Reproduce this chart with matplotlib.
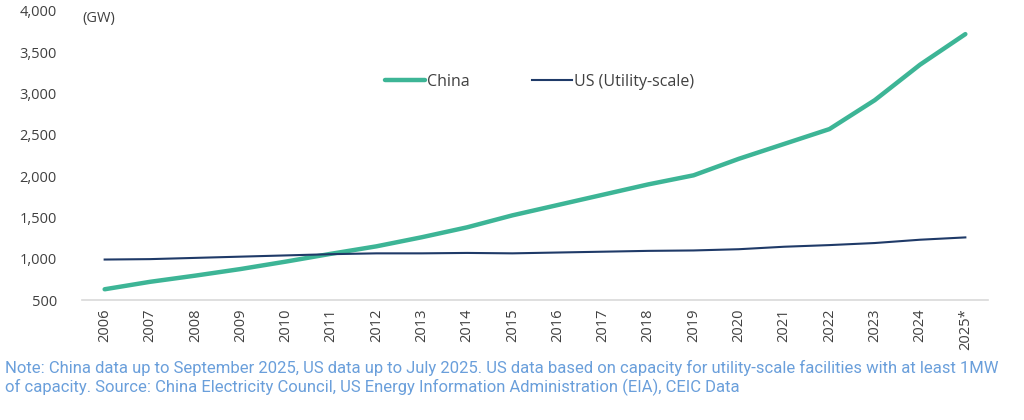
import matplotlib
matplotlib.use("Agg")
import matplotlib.pyplot as plt
from matplotlib.ticker import FuncFormatter

years = ["2006","2007","2008","2009","2010","2011","2012","2013","2014","2015",
         "2016","2017","2018","2019","2020","2021","2022","2023","2024","2025*"]
china = [630, 720, 795, 875, 965, 1060, 1150, 1260, 1380, 1525,
         1650, 1775, 1900, 2010, 2210, 2390, 2570, 2920, 3350, 3720]
us = [990, 995, 1010, 1025, 1040, 1055, 1065, 1065, 1070, 1065,
      1075, 1085, 1095, 1100, 1115, 1145, 1165, 1190, 1230, 1258]
yticks = [500, 1000, 1500, 2000, 2500, 3000, 3500, 4000]

plt.rcParams['font.family'] = ['Open Sans', 'DejaVu Sans']
fig = plt.figure(figsize=(10.24, 4.2), dpi=100)
ax = fig.add_axes([82/1024, 1-300/420, 906/1024, 289/420])

x = list(range(len(years)))
ax.plot(x, china, color='#3DB596', lw=3.2, solid_capstyle='round', label='China')
ax.plot(x, us, color='#1F3A68', lw=1.5, label='US (Utility-scale)')

ax.set_xlim(-0.5, len(years)-0.5)
ax.set_ylim(500, 4000)
ax.set_yticks(yticks)
ax.yaxis.set_major_formatter(FuncFormatter(lambda v, p: f"{int(v):,}"))
ax.set_xticks(x)
ax.set_xticklabels(years, rotation=90)
for s in ['top', 'right', 'left']:
    ax.spines[s].set_visible(False)
ax.spines['bottom'].set_color('#D9D9D9')
ax.spines['bottom'].set_linewidth(1.2)
ax.tick_params(axis='both', length=0, labelsize=10.5, colors='#404040')
ax.tick_params(axis='y', pad=18)
ax.tick_params(axis='x', pad=6)

ax.text(0.0, 0.975, "(GW)", transform=ax.transAxes, fontsize=10.5, color='#404040',
        va='center', ha='left')

leg = ax.legend(loc='center', bbox_to_anchor=(0.505, 0.755), ncol=2, frameon=False,
                fontsize=11.5, handlelength=2.5, handletextpad=0.15, columnspacing=3.9)
for t in leg.get_texts():
    t.set_color('#404040')

note = ("Note: China data up to September 2025, US data up to July 2025. US data based on capacity for utility-scale facilities with at least 1MW\n"
        "of capacity. Source: China Electricity Council, US Energy Information Administration (EIA), CEIC Data")
fig.text(5/1024, 1-360/420, note, fontsize=12, color='#6A9FDB', family=['Roboto', 'DejaVu Sans'],
         va='top', ha='left', linespacing=1.2)

fig.savefig("out.png", dpi=100, facecolor='white')
